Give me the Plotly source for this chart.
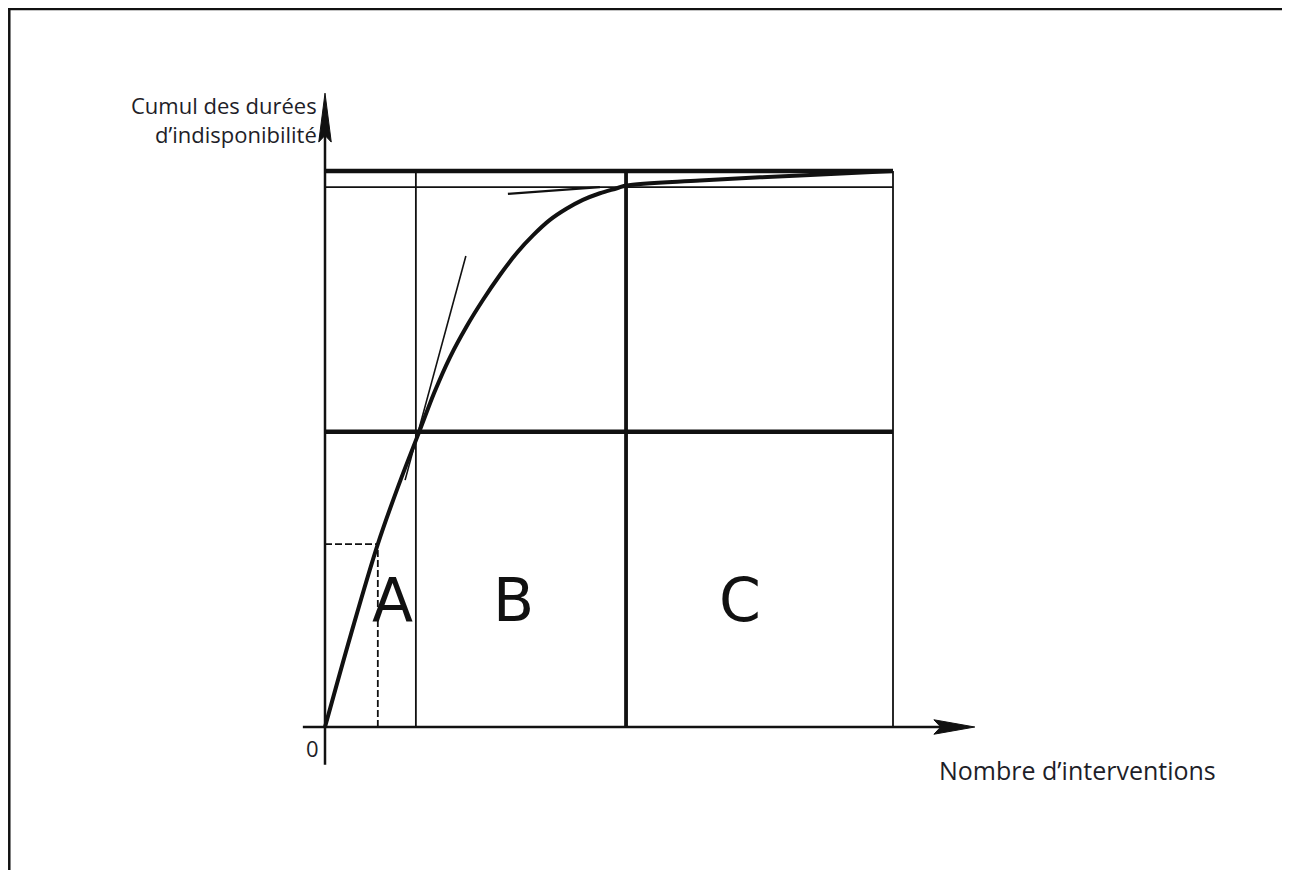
import plotly.graph_objects as go

# ---- data (normalised units: 100 = full box) ----
curve_x = [0, 4.6, 9.3, 13.0, 16.7, 19.3, 22.0, 24.9, 27.8, 30.8, 33.8, 36.7, 39.6, 42.5, 45.4, 48.4, 51.4, 53.0, 66.0, 83.6, 100.0]
curve_y = [0, 16.8, 32.9, 43.6, 53.4, 60.3, 66.5, 72.0, 76.8, 81.3, 85.3, 88.5, 91.2, 93.2, 94.8, 96.0, 96.9, 97.4, 98.3, 99.2, 100.0]

class_bounds_x = [16.0, 53.0, 100.0]      # A|B, B|C, right edge
class_bounds_thick = [False, True, False]
levels_y = [53.1, 97.1, 100.0]
levels_thick = [True, False, True]

class_labels = ["A", "B", "C"]
class_label_x = [11.8, 33.1, 73.1]
class_label_y = [22.8, 22.8, 22.8]

dash_x = 9.3
dash_y = 32.9

tangent1_x = [14.1, 24.8]
tangent1_y = [44.4, 84.7]
tangent2_x = [32.2, 48.4]
tangent2_y = [95.9, 97.1]

x_axis_end = 114.4
y_axis_end = 114.0

x_title = "Nombre d’interventions"
y_title_lines = ["Cumul des durées", "d’indisponibilité"]

# page body has an 8px margin: origin of data at page px (325, 727)
W, H = 1282, 862
OX, OY = 325 - 8, 727 - 8
SX, SY = 5.68, 5.56
XR = [-OX / SX, (W - OX) / SX]
YR = [-(H - OY) / SY, OY / SY]

def py(page_y):
    return (727 - page_y) / SY

fig = go.Figure()
BLACK = "#111111"
TXT = "#1e1e28"

def seg(xs, ys, w, dash="solid", color=BLACK):
    fig.add_trace(go.Scatter(x=xs, y=ys, mode="lines",
                             line=dict(color=color, width=w, dash=dash),
                             hoverinfo="skip", showlegend=False))

# horizontal levels
for y, thick in zip(levels_y, levels_thick):
    seg([0, class_bounds_x[-1]], [y, y], 4.5 if thick else 1.8)

# vertical class bounds
for x, thick in zip(class_bounds_x, class_bounds_thick):
    seg([x, x], [0, levels_y[-1]], 3.8 if thick else 1.8)

# dashed guide
seg([0, dash_x], [dash_y, dash_y], 1.8, dash="7px,3px")
seg([dash_x, dash_x], [0, dash_y], 1.8, dash="7px,3px")

# tangents
seg(tangent1_x, tangent1_y, 1.6)
seg(tangent2_x, tangent2_y, 2.2)

# curve
fig.add_trace(go.Scatter(x=curve_x, y=curve_y, mode="lines",
                         line=dict(color=BLACK, width=4, shape="spline", smoothing=1.0),
                         hoverinfo="skip", showlegend=False))

# axes
seg([-3.9, x_axis_end - 5], [0, 0], 2.5)
seg([0, 0], [-6.8, y_axis_end - 6], 2.5)

# arrowheads
fig.add_trace(go.Scatter(
    x=[x_axis_end, x_axis_end - 7.2, x_axis_end - 6.0, x_axis_end - 7.2, x_axis_end],
    y=[0, 1.3, 0, -1.3, 0], mode="lines", fill="toself", fillcolor=BLACK,
    line=dict(color=BLACK, width=1), hoverinfo="skip", showlegend=False))
fig.add_trace(go.Scatter(
    x=[0, 1.1, 0, -1.1, 0],
    y=[y_axis_end, y_axis_end - 8.8, y_axis_end - 7.6, y_axis_end - 8.8, y_axis_end],
    mode="lines", fill="toself", fillcolor=BLACK,
    line=dict(color=BLACK, width=1), hoverinfo="skip", showlegend=False))

# class letters
for lab, lx, ly in zip(class_labels, class_label_x, class_label_y):
    fig.add_annotation(x=lx, y=ly, text=lab, showarrow=False,
                       font=dict(family="DejaVu Sans", size=60, color=BLACK),
                       xanchor="center", yanchor="middle")

# axis titles
for line, ypage in zip(y_title_lines, [105, 134]):
    fig.add_annotation(x=-1.0, y=py(ypage), text=line, showarrow=False,
                       xanchor="right", yanchor="middle",
                       font=dict(family="Open Sans", size=22, color=TXT))
fig.add_annotation(x=(937 - 325) / SX, y=py(770), text=x_title, showarrow=False,
                   xanchor="left", yanchor="middle",
                   font=dict(family="Open Sans", size=25, color=TXT))
fig.add_annotation(x=(312 - 325) / SX, y=py(748), text="0", showarrow=False,
                   xanchor="center", yanchor="middle",
                   font=dict(family="Open Sans", size=22, color=TXT))

# page frame
fig.add_shape(type="line", xref="paper", yref="paper", x0=0.001, x1=0.001,
              y0=0, y1=1 - 1/H, line=dict(color=BLACK, width=2.5))
fig.add_shape(type="line", xref="paper", yref="paper", x0=0, x1=1,
              y0=1 - 1/H, y1=1 - 1/H, line=dict(color=BLACK, width=2.5))
fig.add_shape(type="line", xref="paper", yref="paper", x0=0.999, x1=0.999,
              y0=0, y1=1 - 1/H, line=dict(color="#999999", width=2))

fig.update_layout(
    width=W, height=H, autosize=False,
    margin=dict(l=0, r=0, t=0, b=0),
    paper_bgcolor="white", plot_bgcolor="white",
    xaxis=dict(range=XR, visible=False, fixedrange=True),
    yaxis=dict(range=YR, visible=False, fixedrange=True),
    showlegend=False,
)

fig.write_html("out.html")
